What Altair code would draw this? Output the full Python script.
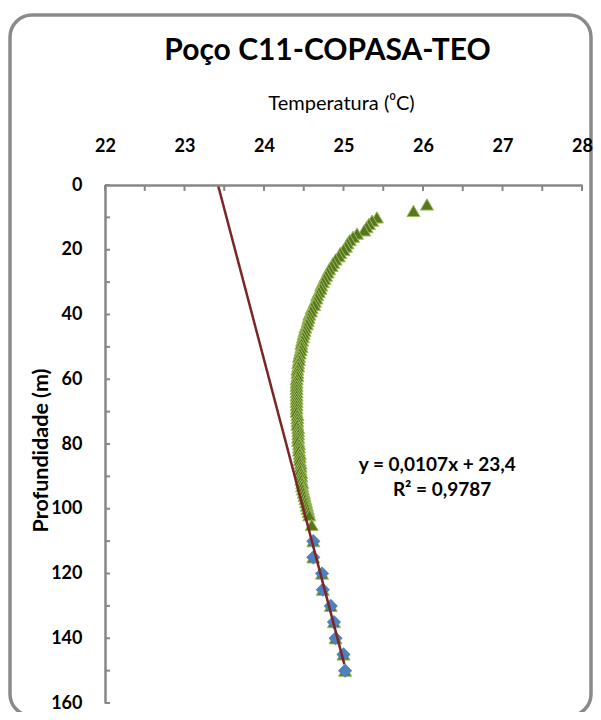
import altair as alt
import pandas as pd

# ---- data ----
green_depth = [6, 8, 10,
               11, 12, 13, 14, 15, 16, 17, 18, 19, 20,
               21, 22, 23, 24, 25, 26, 27, 28, 29, 30,
               31, 32, 33, 34, 35, 36, 37, 38, 39, 40,
               41, 42, 43, 44, 45, 46, 47, 48, 49, 50,
               51, 52, 53, 54, 55, 56, 57, 58, 59, 60,
               61, 62, 63, 64, 65, 66, 67, 68, 69, 70,
               71, 72, 73, 74, 75, 76, 77, 78, 79, 80,
               81, 82, 83, 84, 85, 86, 87, 88, 89, 90,
               91, 92, 93, 94, 95, 96, 97, 98, 99, 100,
               101, 102, 105,
               110, 115, 120, 125, 130, 135, 140, 145, 150]
green_temp = [26.05, 25.88, 25.42,
              25.36, 25.32, 25.29, 25.26, 25.17, 25.12, 25.08, 25.05, 25.03, 25.00,
              24.96, 24.94, 24.90, 24.87, 24.85, 24.82, 24.80, 24.78, 24.76, 24.74,
              24.72, 24.71, 24.69, 24.67, 24.66, 24.64, 24.63, 24.60, 24.59, 24.57,
              24.56, 24.55, 24.54, 24.52, 24.51, 24.50, 24.49, 24.48, 24.47, 24.47,
              24.46, 24.45, 24.44, 24.44, 24.43, 24.43, 24.42, 24.42, 24.42, 24.41,
              24.41, 24.41, 24.41, 24.41, 24.41, 24.41, 24.41, 24.41, 24.41, 24.41,
              24.42, 24.42, 24.42, 24.42, 24.43, 24.43, 24.43, 24.43, 24.43, 24.44,
              24.44, 24.44, 24.45, 24.45, 24.45, 24.46, 24.46, 24.46, 24.47, 24.47,
              24.47, 24.48, 24.48, 24.49, 24.50, 24.51, 24.52, 24.53, 24.54, 24.55,
              24.56, 24.57, 24.60,
              24.62, 24.62, 24.73, 24.74, 24.84, 24.88, 24.90, 25.00, 25.02]

blue_depth = [110, 115, 120, 125, 130, 135, 140, 145, 150]
blue_temp = [24.62, 24.62, 24.73, 24.74, 24.84, 24.88, 24.90, 25.00, 25.02]

x_labels = [22, 23, 24, 25, 26, 27, 28]
x_minor = [22, 22.5, 23, 23.5, 24, 24.5, 25, 25.5, 26, 26.5, 27, 27.5, 28]
y_labels = [0, 20, 40, 60, 80, 100, 120, 140, 160]
y_minor = [0, 10, 20, 30, 40, 50, 60, 70, 80, 90, 100, 110, 120, 130, 140, 150, 160]

title_text = "Poço C11-COPASA-TEO"
eq_text = ["y = 0,0107x + 23,4", "R² = 0,9787"]
trend_extent = [0, 148]

# ---- annotation placement (data coordinates) ----
eq_temp = [26.18, 26.24]
eq_depth = [86.4, 94.1]

W, H = 477, 518
AX = "#878787"
FONT = "Lato"

green = pd.DataFrame({"depth": green_depth, "temp": green_temp})
blue = pd.DataFrame({"depth": blue_depth, "temp": blue_temp})
xt = pd.DataFrame({"temp": x_minor})
yt = pd.DataFrame({"depth": y_minor})
eq = pd.DataFrame({"label": eq_text, "temp": eq_temp, "depth": eq_depth})

xscale = alt.Scale(domain=[22, 28], nice=False, zero=False)
yscale = alt.Scale(domain=[0, 160], nice=False, reverse=True)

xaxis = alt.Axis(orient="top", values=x_labels, ticks=False, grid=False, zindex=1,
                 domainColor=AX, domainWidth=2.5, format="d",
                 labelFont=FONT, labelFontSize=18, labelFontWeight="bold",
                 labelColor="black", labelPadding=30, labelFlush=False,
                 title="Temperatura (⁰C)", titleFont=FONT, titleFontSize=20,
                 titleFontWeight="normal", titleColor="black",
                 titleX=236, titleY=-82, titleBaseline="middle", titleAlign="center")
yaxis = alt.Axis(orient="left", values=y_labels, ticks=False, grid=False, zindex=1,
                 domainColor=AX, domainWidth=2.5, format="d",
                 labelFont=FONT, labelFontSize=18, labelFontWeight="bold",
                 labelColor="black", labelPadding=23, labelFlush=False,
                 title="Profundidade (m)", titleFont=FONT, titleFontSize=21.5,
                 titleFontWeight="bold", titleColor="black", titleAngle=270,
                 titleX=-64, titleY=265, titleBaseline="middle", titleAlign="center")

X = alt.X("temp:Q", scale=xscale, axis=xaxis)
Y = alt.Y("depth:Q", scale=yscale, axis=yaxis)

border = alt.Chart(pd.DataFrame({"a": [0]})).mark_rect(
    filled=False, stroke="#8a8a8a", strokeWidth=3.5, cornerRadius=22
).encode(x=alt.value(-95), x2=alt.value(W + 9), y=alt.value(-170), y2=alt.value(H + 13))

ttl = alt.Chart(pd.DataFrame({"label": [title_text]})).mark_text(
    font=FONT, fontSize=30, fontWeight="bold", color="black",
    align="center", baseline="alphabetic"
).encode(x=alt.value(W / 2 - 16), y=alt.value(-125), text="label:N")

xticks = alt.Chart(xt).mark_rule(color=AX, strokeWidth=2).encode(
    x=X, y=alt.value(0), y2=alt.value(6))
yticks = alt.Chart(yt).mark_rule(color=AX, strokeWidth=2).encode(
    y=Y, x=alt.value(0), x2=alt.value(5))

g = alt.Chart(green).mark_point(
    shape="triangle-up", filled=True, fill="#56761f", stroke="#9bbb59",
    strokeWidth=1, size=170, opacity=1
).encode(x=X, y=Y)

b = alt.Chart(blue).mark_point(
    shape="diamond", filled=True, fill="#4f81bd", strokeWidth=0, size=200, opacity=1
).encode(x=X, y=Y)

trend = alt.Chart(blue).transform_regression(
    "depth", "temp", extent=trend_extent
).mark_line(color="#7a2626", strokeWidth=2.5).encode(x=X, y=Y, order="depth:Q")

eqt = alt.Chart(eq).mark_text(font=FONT, fontSize=19, fontWeight="bold", color="black",
                              align="center", baseline="middle").encode(
    x=X, y=Y, text="label:N")

chart = alt.layer(border, ttl, xticks, yticks, g, b, trend, eqt).properties(
    width=W, height=H,
    autosize=alt.AutoSizeParams(type="none"),
    padding={"left": 97, "top": 177, "right": 11, "bottom": 9},
).configure_view(stroke="transparent")

chart.save("out.html", embed_options={"renderer": "svg", "actions": False})
